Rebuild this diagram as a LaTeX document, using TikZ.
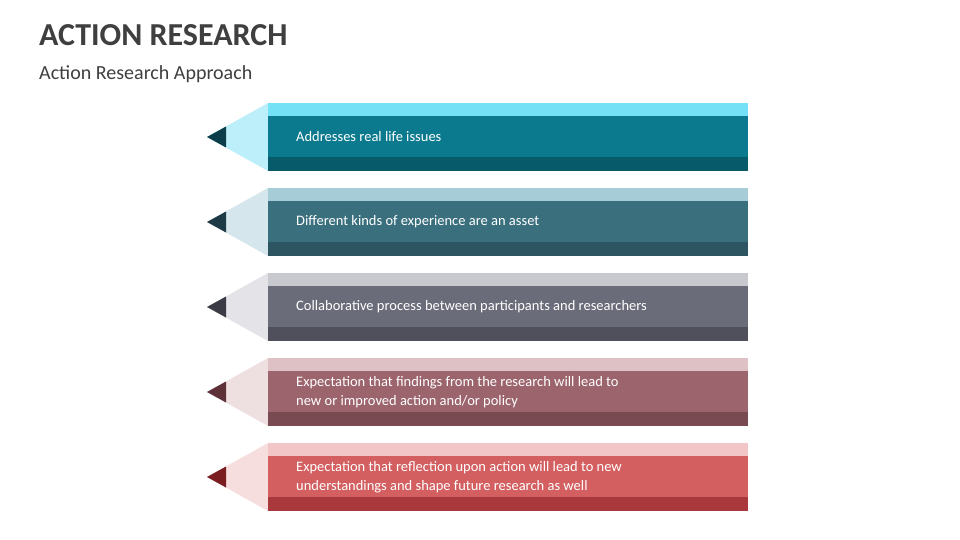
\documentclass[tikz,border=0pt]{standalone}
\usepackage{fontspec}
\setmainfont{Carlito}
\usetikzlibrary{positioning}
\definecolor{titlegray}{HTML}{3F3F3F}

\begin{document}
\begin{tikzpicture}[x=1pt,y=-1pt]
	\useasboundingbox (0,0) rectangle (960,540);
	\node[anchor=west, font=\fontsize{32}{36}\selectfont\bfseries, text=titlegray, inner sep=0] (title) at (39,35) {ACTION RESEARCH};
	\node[anchor=west, font=\fontsize{20}{24}\selectfont, text=titlegray, inner sep=0] (sub) at (39,74) {Action Research Approach};
	% pencils: offset / top / main / bottom / wood / lead / text
	\foreach \y/\ct/\cm/\cb/\cw/\cl/\txt in {
		103/74E1F7/0B7A8F/065A6A/BDEFFA/0B3D4A/{Addresses real life issues},
		188/A6CCD8/3A6F7E/2C5561/D5E6EC/1E3A44/{Different kinds of experience are an asset},
		273/C8C9CE/6B6C7A/4F505C/E3E3E8/3A3B44/{Collaborative process between participants and researchers},
		358/DDC1C5/9C646C/7A4A52/EEDFE0/5E3038/{Expectation that findings from the research will lead to\\new or improved action and/or policy},
		443/F2C6C6/D35F61/A8383C/F7DEDE/7A1E22/{Expectation that reflection upon action will lead to new\\understandings and shape future research as well}}{
		\definecolor{penciltop}{HTML}{\ct}\definecolor{pencilmain}{HTML}{\cm}\definecolor{pencilbot}{HTML}{\cb}
		\definecolor{pencilwood}{HTML}{\cw}\definecolor{pencillead}{HTML}{\cl}
		\fill[pencilwood] (268,\y) -- (207,\y+34) -- (268,\y+68) -- cycle;
		\fill[pencillead] (226,\y+23.5) -- (207,\y+34) -- (226,\y+44.5) -- cycle;
		\fill[penciltop] (268,\y) rectangle (748,\y+13);
		\fill[pencilmain] (268,\y+13) rectangle (748,\y+54);
		\fill[pencilbot] (268,\y+54) rectangle (748,\y+68);
		\node[anchor=west, text=white, align=left, inner sep=0, font=\fontsize{14.5}{19.5}\selectfont] (label\y) at (296,\y+34) {\txt};
	}
\end{tikzpicture}
\end{document}
